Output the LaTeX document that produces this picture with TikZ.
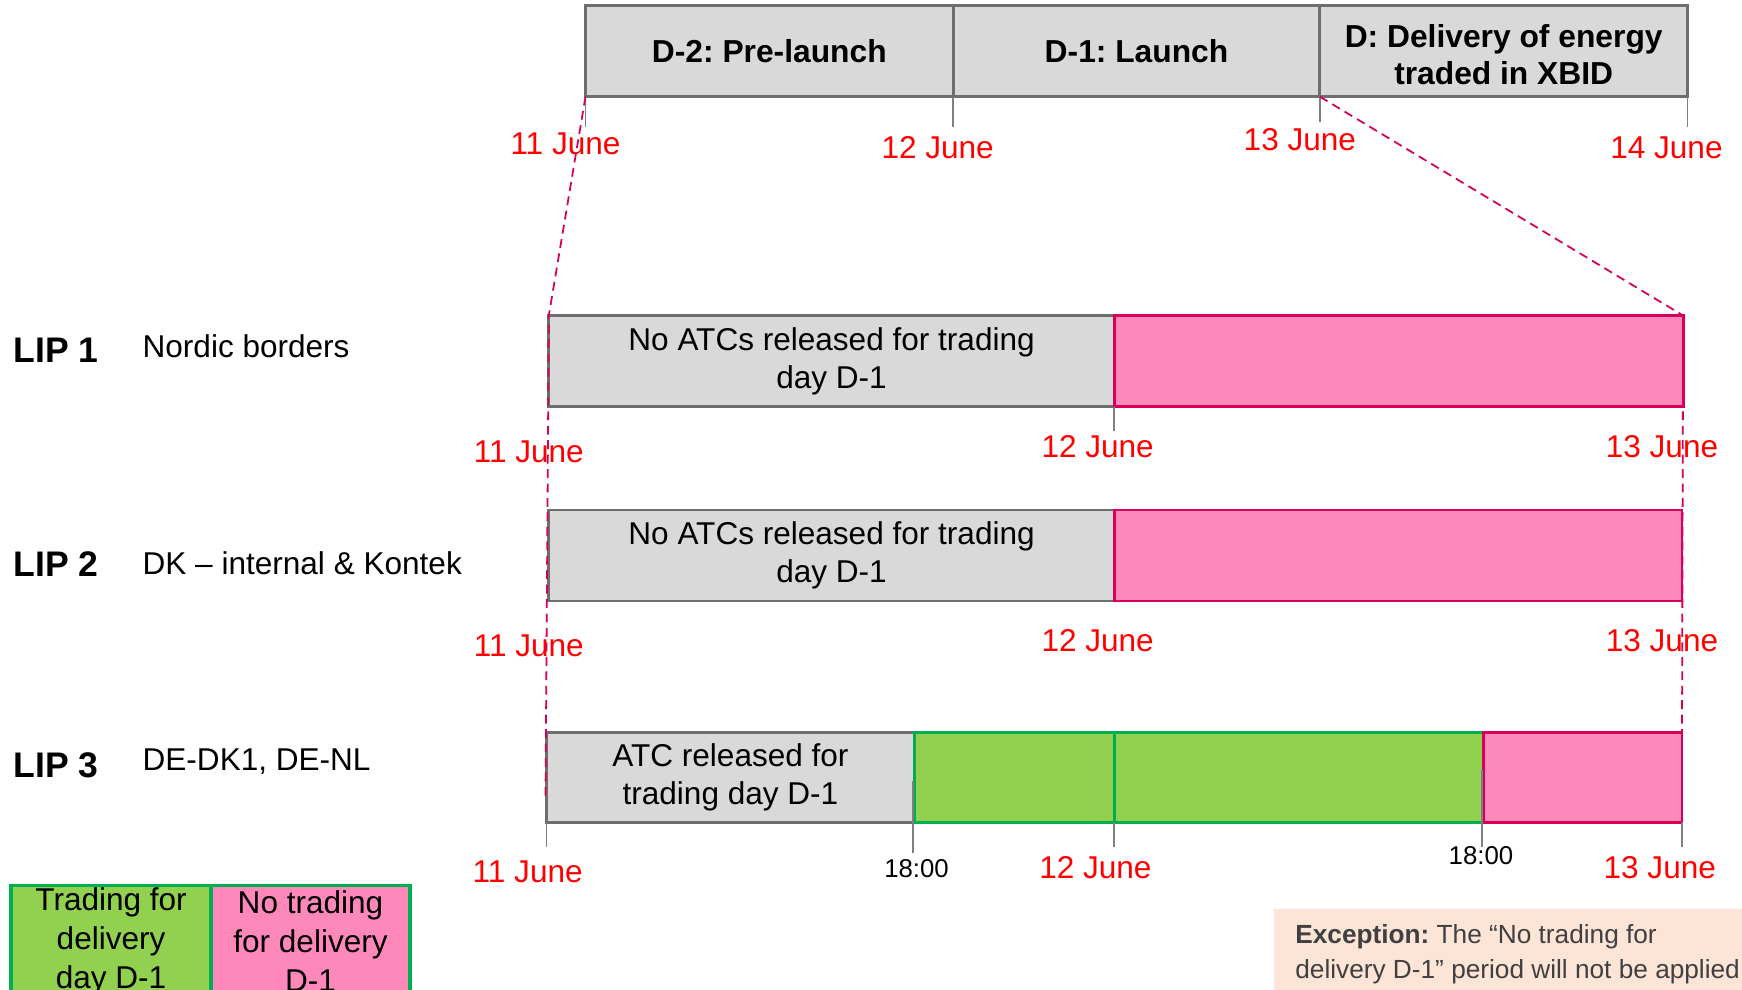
\documentclass[tikz,border=0pt]{standalone}
\usepackage{fontspec}
\setmainfont{Liberation Sans}
\frenchspacing
\definecolor{boxgrey}{HTML}{D9D9D9}
\definecolor{linegrey}{HTML}{6E6E6E}
\definecolor{tickgrey}{HTML}{7F7F7F}
\definecolor{pinkfill}{HTML}{FF88BA}
\definecolor{crimson}{HTML}{D6005A}
\definecolor{greenfill}{HTML}{92D050}
\definecolor{greenline}{HTML}{00B050}
\definecolor{datered}{HTML}{FF0000}
\definecolor{peach}{HTML}{FCE4D6}
\definecolor{textgrey}{HTML}{404040}
\newcommand{\fntMain}{\fontsize{14.2pt}{17pt}\selectfont}
\newcommand{\fntTop}{\fontsize{14.3pt}{16.5pt}\selectfont\bfseries\frenchspacing}
\newcommand{\fntLeg}{\fontsize{14.2pt}{17.5pt}\selectfont}
\newcommand{\fntLip}{\fontsize{16pt}{19pt}\selectfont\bfseries}
\newcommand{\fntSmall}{\fontsize{11.6pt}{14pt}\selectfont}
\newcommand{\fntEx}{\fontsize{11.8pt}{16pt}\selectfont\frenchspacing}
\begin{document}
\begin{tikzpicture}[x=0.5pt,y=-0.5pt,
  base/.style={inner sep=0pt, outer sep=0pt, anchor=north west},
  topbox/.style={base, draw=linegrey, fill=boxgrey, line width=1.4pt, minimum height=41pt, align=center, font=\fntTop},
  greybox/.style={base, draw=linegrey, fill=boxgrey, line width=1.25pt, align=center, font=\fntMain},
  pinkbox/.style={base, draw=crimson, fill=pinkfill, line width=1.25pt},
  greenbox/.style={base, draw=greenline, fill=greenfill, line width=1.25pt},
  legbox/.style={base, draw=greenline, line width=1.5pt, align=center, font=\fntLeg, minimum height=50pt},
  tick/.style={draw=tickgrey, line width=0.75pt},
  funnel/.style={draw=crimson, line width=0.8pt, dash pattern=on 4pt off 2.5pt},
  date/.style={inner sep=0pt, text=datered, font=\fntMain},
  small/.style={inner sep=0pt, text=black, font=\fntSmall},
  lip/.style={inner sep=0pt, anchor=west, font=\fntLip},
  lipname/.style={inner sep=0pt, anchor=west, font=\fntMain}
]
\useasboundingbox (0,0) rectangle (1568,891);
\clip (0,0) rectangle (1568,891);

% ---- top phase bar
\node[topbox, minimum width=165.5pt] (d2) at (527,5) {D-2: Pre-launch};
\node[topbox, minimum width=165pt] (d1) at (858,5) {D-1: Launch};
\node[topbox, minimum width=165.5pt] (d0) at (1188,5) {\rule{0pt}{13.5pt}D: Delivery of energy\\traded in XBID};
\draw[tick] (d2.south west) -- ++(0,27);
\draw[tick] (d1.south west) -- ++(0,27);
\draw[tick] (d0.south west) -- ++(0,23);
\draw[tick] (d0.south east) -- ++(0,27);
\node[date] (t11) at (509,129) {11 June};
\node[date] (t12) at (844,133) {12 June};
\node[date] (t13) at (1170,126) {13 June};
\node[date] (t14) at (1500,133) {14 June};

% ---- LIP 1
\node[lip] (lip1) at (12,315) {LIP 1};
\node[lipname] (n1) at (128,312) {Nordic borders};
\node[greybox, minimum width=254.5pt, minimum height=41pt] (g1) at (494,284) {No ATCs released for trading\\day D-1};
\node[pinkbox, minimum width=256pt, minimum height=41pt] (p1) at (1003,284) {};
\draw[tick] (g1.south east) -- ++(0,22);
\node[date] (a11) at (476,407) {11 June};
\node[date] (a12) at (988,402) {12 June};
\node[date] (a13) at (1496,402) {13 June};

% ---- LIP 2
\node[lip] (lip2) at (12,508) {LIP 2};
\node[lipname] (n2) at (128,507) {DK – internal \& Kontek};
\node[greybox, minimum width=254.5pt, minimum height=41pt] (g2) at (494,459) {No ATCs released for trading\\day D-1};
\node[pinkbox, minimum width=255.5pt, minimum height=41pt] (p2) at (1003,459) {};
\node[date] (c11) at (476,581) {11 June};
\node[date] (c12) at (988,577) {12 June};
\node[date] (c13) at (1496,577) {13 June};

% ---- LIP 3
\node[lip] (lip3) at (12,689) {LIP 3};
\node[lipname] (n3) at (128,686) {DE-DK1, DE-NL};
\node[greybox, minimum width=165.5pt, minimum height=40.5pt] (g3) at (492,659) {ATC released for\\trading day D-1};
\node[greenbox, minimum width=256pt, minimum height=40.5pt] (gr3) at (823,659) {};
\node[pinkbox, minimum width=89.5pt, minimum height=40.5pt] (p3) at (1335,659) {};
\draw[draw=greenline, line width=1.25pt] (1003,659) -- (1003,740);
\draw[tick] (g3.south west) -- ++(0,22);
\draw[tick] (822,703) -- (822,768);
\draw[tick] (1003,740) -- (1003,762);
\draw[tick] (1334,693) -- (1334,762);
\draw[tick] (p3.south east) -- ++(0,22);
\node[date] (b11) at (475,785) {11 June};
\node[small] (h1) at (825,782) {18:00};
\node[date] (b12) at (986,781) {12 June};
\node[small] (h2) at (1333,770) {18:00};
\node[date] (b13) at (1494,781) {13 June};

% ---- zoom funnel (dashed)
\coordinate (lend) at (491,720);
\draw[funnel] (d2.south west) -- (g1.north west) -- (lend);
\draw[funnel] (d0.south west) -- (p1.north east) -- (p3.north east);

% ---- legend
\node[legbox, fill=greenfill, minimum width=90pt] (lg) at (10,797) {Trading for\\delivery\\day D-1};
\node[legbox, fill=pinkfill, minimum width=89.5pt] (lp) at (190,797) {No trading\\for delivery\\D-1};

% ---- exception note
\node[base, fill=peach, minimum width=230pt, minimum height=50pt] (exbg) at (1147,818) {};
\node[base, text=textgrey, align=left, font=\fntEx, xshift=9.5pt, yshift=-7pt] (ex) at (exbg.north west)
  {\textbf{Exception:} The “No trading for\\delivery D-1” period will not be applied};
\end{tikzpicture}
\end{document}
